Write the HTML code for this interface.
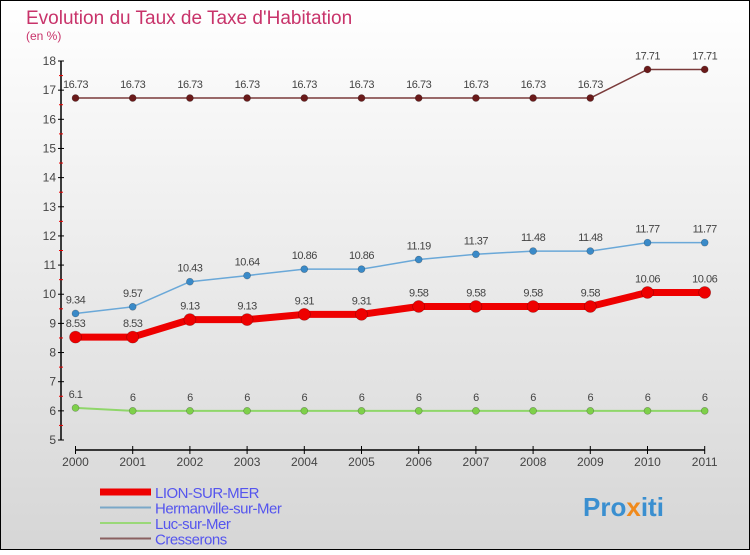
<!DOCTYPE html>
<html><head><meta charset="utf-8">
<style>
body{margin:0;width:750px;height:550px;overflow:hidden;font-family:"Liberation Sans",sans-serif}
svg text{font-family:"Liberation Sans",sans-serif}
</style></head>
<body>
<svg id="c" width="750" height="550" xmlns="http://www.w3.org/2000/svg">
<defs><linearGradient id="bg" x1="0" y1="0" x2="0" y2="1"><stop offset="0" stop-color="#ffffff"/><stop offset="1" stop-color="#d6d6d6"/></linearGradient></defs>
<rect x="0.5" y="0.5" width="749" height="549" fill="url(#bg)" stroke="#000"/>
<text x="26" y="24" font-size="19" fill="#c8336a">Evolution du Taux de Taxe d'Habitation</text>
<text x="26" y="40" font-size="12" fill="#c8336a">(en %)</text>
<g id="axes"></g>
<g id="series"></g>
<g id="legend"></g>
<text x="583" y="516" font-size="26" font-weight="bold" fill="#3a8fd0">Pro<tspan fill="#f08a1c">x</tspan><tspan fill="#3a8fd0">iti</tspan></text>
</svg>
<script>
const years=["2000","2001","2002","2003","2004","2005","2006","2007","2008","2009","2010","2011"];
const lion=[8.53,8.53,9.13,9.13,9.31,9.31,9.58,9.58,9.58,9.58,10.06,10.06];
const herm=[9.34,9.57,10.43,10.64,10.86,10.86,11.19,11.37,11.48,11.48,11.77,11.77];
const luc=[6.1,6,6,6,6,6,6,6,6,6,6,6];
const cress=[16.73,16.73,16.73,16.73,16.73,16.73,16.73,16.73,16.73,16.73,17.71,17.71];
const yTicks=[5,6,7,8,9,10,11,12,13,14,15,16,17,18];
const NS="http://www.w3.org/2000/svg";
const x=i=>75.5+i*57.2;
const y=v=>440-(v-5)*(379/13);
function mk(p,t,a){const e=document.createElementNS(NS,t);for(const k in a)e.setAttribute(k,a[k]);p.appendChild(e);return e;}
const ax=document.getElementById('axes');
let l=mk(ax,'line',{x1:61,y1:y(18),x2:61,y2:y(5),stroke:'#000','stroke-width':1.5});


l=mk(ax,'line',{x1:x(0),y1:450,x2:x(11),y2:450,stroke:'#000','stroke-width':1.5});


yTicks.forEach(v=>{
 mk(ax,'line',{x1:58,x2:64,y1:y(v),y2:y(v),stroke:'#000'});
 if(v<18)mk(ax,'line',{x1:59,x2:63,y1:y(v+0.5),y2:y(v+0.5),stroke:'#e00'});
 const t=mk(ax,'text',{x:56,y:y(v)+4,'font-size':12,'text-anchor':'end',fill:'#444'});
 t.textContent=v;
 
 
});
years.forEach((yr,i)=>{
 mk(ax,'line',{x1:x(i),x2:x(i),y1:446,y2:454,stroke:'#000'});
 const t=mk(ax,'text',{x:x(i),y:466,'font-size':12,'text-anchor':'middle',fill:'#444'});
 t.textContent=yr;
 
 
});
const sg=document.getElementById('series');
function series(data,color,lw,r,name,dot,labelOff){
 const g=mk(sg,'g',{});
 
 
 mk(g,'polyline',{points:data.map((v,i)=>x(i)+','+y(v)).join(' '),fill:'none',stroke:color,'stroke-width':lw,'stroke-linejoin':'round'});
 data.forEach((v,i)=>{
  const c=mk(g,'circle',{cx:x(i),cy:y(v),r:r,fill:dot,stroke:'rgba(0,0,0,0.3)','stroke-width':0.6});
  
  
  const t=mk(g,'text',{x:x(i),y:y(v)+labelOff,'font-size':11,'text-anchor':'middle',fill:'#444','letter-spacing':'-0.5'});
  t.textContent=String(v);
  
  
 });
}
series(luc,'#8fd66a',2,3.5,'luc-sur-mer-series','#7ed04a',-10);
series(cress,'#7a3a3a',1.5,3.5,'cresserons-series','#6a1a1a',-10);
series(herm,'#6aa8d8',1.5,3.5,'hermanville-series','#3a8ac8',-10);
series(lion,'#ee0000',7,6,'lion-sur-mer-series','#ee0000',-10);
const lg=document.getElementById('legend');
const items=[["LION-SUR-MER","#ee0000",7],["Hermanville-sur-Mer","#7aa8c8",2],["Luc-sur-Mer","#9ad878",2],["Cresserons","#8a6060",2]];
items.forEach((it,i)=>{
 const yy=492+i*15.5;
 const g=mk(lg,'g',{});
 
 
 mk(g,'line',{x1:100,x2:151,y1:yy,y2:yy,stroke:it[1],'stroke-width':it[2]});
 const t=mk(g,'text',{x:155,y:yy+6,'font-size':15,fill:'#5555ee','letter-spacing':'-0.5'});
 t.textContent=it[0];
});
</script>
</body></html>
